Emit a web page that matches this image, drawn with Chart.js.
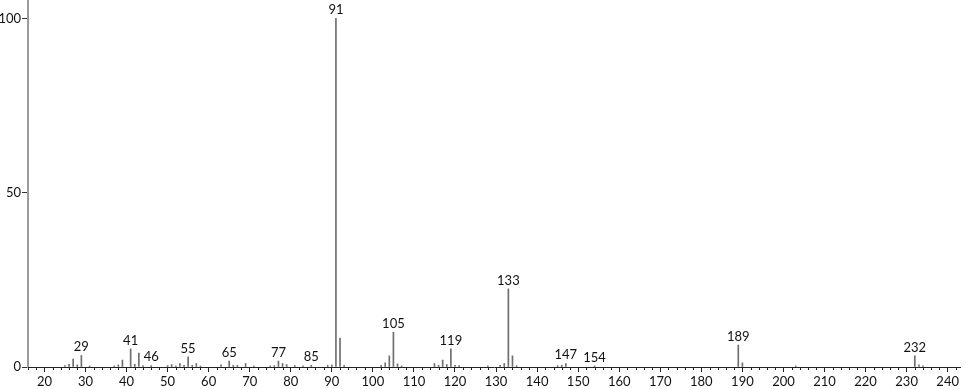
<!DOCTYPE html>
<html>
<head>
<meta charset="utf-8">
<script src="https://cdn.jsdelivr.net/npm/chart.js@4/dist/chart.umd.min.js"></script>
<style>
  html, body { margin: 0; padding: 0; background: #fff; }
  #wrap { width: 966px; height: 389px; }
</style>
</head>
<body>
<div id="wrap"><canvas id="spectrum" width="966" height="389"></canvas></div>
<script>
// m/z values and relative intensities (%)
const mz = [25, 26, 27, 28, 29, 31, 37, 38, 39, 41, 42, 43, 44, 46, 50, 51, 52, 53, 54, 55, 56, 57, 58,
    63, 65, 66, 67, 69, 71, 75, 76, 77, 78, 79, 81, 83, 85, 89, 90, 91, 92, 93,
    102, 103, 104, 105, 106, 107, 115, 116, 117, 118, 119, 120, 121, 128, 131, 132, 133, 134, 135,
    145, 146, 147, 154, 189, 190, 203, 232, 233, 234];
const intensity = [0.4, 0.8, 2.3, 0.6, 3.3, 0.3, 0.3, 0.6, 2.0, 5.2, 0.8, 4.0, 0.4, 0.4, 0.4, 0.7, 0.3, 1.0, 0.5, 2.9, 0.5, 1.0, 0.3,
    0.6, 1.7, 0.5, 0.5, 1.0, 0.3, 0.3, 0.4, 1.7, 1.0, 0.7, 0.4, 0.3, 0.5, 0.5, 0.6, 100, 8.3, 0.5,
    0.5, 1.2, 3.2, 10.0, 0.9, 0.3, 1.0, 0.5, 2.0, 0.7, 5.2, 0.5, 0.4, 0.3, 0.5, 1.0, 22.4, 3.2, 0.4,
    0.4, 0.5, 1.0, 0.3, 6.3, 1.2, 0.3, 3.2, 0.6, 0.3];
const peakLabels = [29, 41, 46, 55, 65, 77, 85, 91, 105, 119, 133, 147, 154, 189, 232];
const xTicks = [20, 30, 40, 50, 60, 70, 80, 90, 100, 110, 120, 130, 140, 150, 160, 170, 180, 190, 200, 210, 220, 230, 240];
const yTicks = [0, 50, 100];

const font = { family: 'Lato, "DejaVu Sans", sans-serif', size: 13 };

// small ticks every 2 units along the x axis
const minorTicks = {
    id: 'minorTicks',
    afterDraw(chart) {
        const xs = chart.scales.x;
        const ctx = chart.ctx;
        const y0 = chart.chartArea.bottom;
        ctx.save();
        ctx.strokeStyle = '#222';
        ctx.lineWidth = 1;
        ctx.beginPath();
        for (let v = 16; v <= 242; v += 2) {
            if (v % 10 === 0) continue;
            const px = Math.round(xs.getPixelForValue(v)) + 0.5;
            ctx.moveTo(px, y0);
            ctx.lineTo(px, y0 + 3);
        }
        ctx.stroke();
        ctx.restore();
    }
};

// m/z labels above the main peaks
const peakText = {
    id: 'peakText',
    afterDatasetsDraw(chart) {
        const xs = chart.scales.x, ys = chart.scales.y;
        const ctx = chart.ctx;
        ctx.save();
        ctx.font = font.size + 'px ' + font.family;
        ctx.fillStyle = '#111';
        ctx.textAlign = 'center';
        ctx.textBaseline = 'bottom';
        peakLabels.forEach(m => {
            const i = mz.indexOf(m);
            ctx.fillText(String(m), xs.getPixelForValue(m), ys.getPixelForValue(intensity[i]) - 2);
        });
        ctx.restore();
    }
};

new Chart(document.getElementById('spectrum'), {
    type: 'bar',
    data: {
        datasets: [{
            data: mz.map((m, i) => ({ x: m, y: intensity[i] })),
            backgroundColor: '#6e6e6e',
            barThickness: 1
        }]
    },
    options: {
        responsive: false,
        devicePixelRatio: 1,
        animation: false,
        layout: { padding: { top: 1, right: 6, left: 0, bottom: 0 } },
        plugins: { legend: { display: false }, tooltip: { enabled: false } },
        scales: {
            x: {
                type: 'linear',
                offset: false,
                min: 16,
                max: 243,
                afterBuildTicks: s => { s.ticks = xTicks.map(v => ({ value: v })); },
                afterFit: s => { s.height = 22; },
                ticks: { color: '#111', font: font, padding: 2, maxRotation: 0, autoSkip: false },
                grid: { drawOnChartArea: false, offset: false, tickLength: 5, tickColor: '#222' },
                border: { color: '#222', width: 1 }
            },
            y: {
                min: 0,
                max: 105,
                afterBuildTicks: s => { s.ticks = yTicks.map(v => ({ value: v })); },
                afterFit: s => { s.width = 28; s.paddingTop = 0; s.paddingBottom = 0; },
                ticks: { color: '#111', font: font, padding: 1 },
                grid: { drawOnChartArea: false, tickLength: 6, tickColor: '#333' },
                border: { color: '#9a9a9a', width: 2 }
            }
        }
    },
    plugins: [minorTicks, peakText]
});
</script>
</body>
</html>
